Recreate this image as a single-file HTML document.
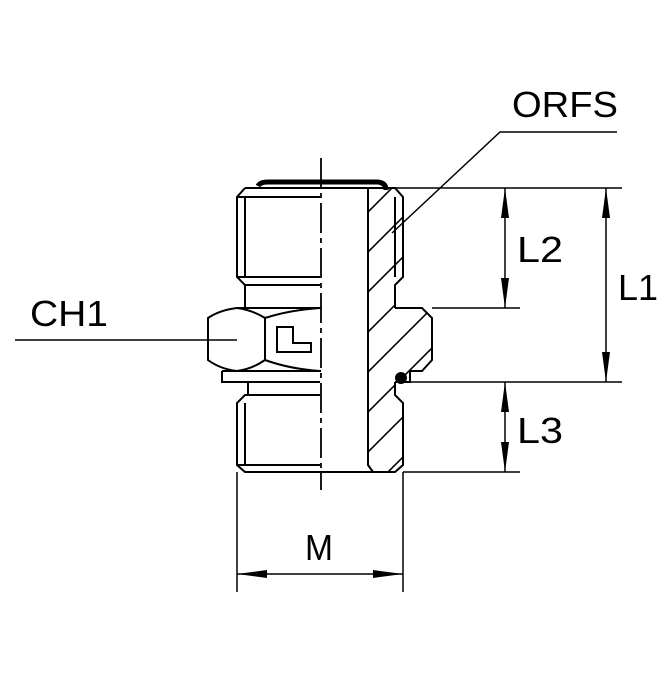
<!DOCTYPE html>
<html><head><style>html,body{margin:0;padding:0;background:#fff}</style></head><body>
<svg width="670" height="670" viewBox="0 0 670 670" xmlns="http://www.w3.org/2000/svg">
<defs>
<clipPath id="sec"><path d="M368,188 L395,188 L403,197 L403,277 L395,285 L395,308 L422,308 L432,318 L432,360 L422,371 L410,371 L410,382 L395,382 L395,395 L403,403 L403,465 L395,472 L373,472 L368,465 Z"/></clipPath>
</defs>
<g fill="none" stroke="#000" stroke-width="2">
<g clip-path="url(#sec)" stroke-width="1.6">
<path d="M360,220 L460,120 M360,260 L460,160 M360,300 L460,200 M360,340 L460,240 M360,380 L460,280 M360,420 L460,320 M360,460 L460,360 M360,500 L460,400 M360,540 L460,440"/>
</g>
<!-- top thread -->
<path d="M245,188 L395,188 L403,197 L403,277 L395,285 L395,308"/>
<path d="M245,188 L237,197 L237,277 L245,285 L245,308"/>
<path d="M245,197 L245,277 M237,197 L320,197 M237,277 L320,277 M245,285 L320,285"/>
<path d="M395,197 L395,277"/>
<!-- hex -->
<path d="M237,308 L321,308 M395,308 L422,308 L432,318 L432,360 L422,371 L410,371 M237,371 L321,371"/>
<path d="M237,308 Q220,310 208,318 L208,360 Q220,369 237,371 Q252,369 265,360 Q290,369 320,371"/>
<path d="M237,308 Q252,310 265,318 Q290,310 320,308 M265,318 L265,360"/>
<path d="M277,327 L293,327 L293,343 L311,343 L311,352 L277,352 Z"/>
<!-- washer -->
<path d="M222,371 L222,382 L320,382 M222,371 L237,371"/>
<!-- lower -->
<path d="M248,382 L248,395 M320,395 L245,395 L237,403 L237,465 L245,472 L395,472 L403,465 L403,403 L395,395 L395,382 M237,465 L320,465 M245,403 L245,465"/>
<path d="M410,371 L410,382 L395,382"/>
<path d="M368,188 L368,465 L373,472"/>
<path d="M321,158 L321,490" stroke-width="1.8" stroke-dasharray="30,5,5,5"/>
<path d="M395,188 L622,188 M432,308 L520,308 M410,382 L622,382 M403,472 L520,472" stroke-width="1.5"/>
<path d="M237,472 L237,592 M403,472 L403,592" stroke-width="1.5"/>
<path d="M505,188 L505,308 M606,188 L606,382 M505,382 L505,472 M237,574 L403,574" stroke-width="1.5"/>
<path d="M392,233 L500,132 L617,132" stroke-width="1.5"/>
<path d="M15,340 L237,340" stroke-width="1.5"/>
</g>
<g fill="#000">
<path d="M505,188 L501,218 L509,218 Z M505,308 L501,278 L509,278 Z"/>
<path d="M606,188 L602,218 L610,218 Z M606,382 L602,352 L610,352 Z"/>
<path d="M505,382 L501,412 L509,412 Z M505,472 L501,442 L509,442 Z"/>
<path d="M237,574 L267,570 L267,578 Z M403,574 L373,570 L373,578 Z"/>
</g>
<path d="M258,186 Q260,182 268,182 L378,182 Q386,183 386,190" fill="none" stroke="#000" stroke-width="5"/>
<circle cx="401" cy="378" r="6" fill="#000"/>
<g font-family="Liberation Sans, sans-serif" font-size="36" fill="#000">
<text x="512" y="117" textLength="106" lengthAdjust="spacingAndGlyphs">ORFS</text>
<text x="30" y="326" textLength="78" lengthAdjust="spacingAndGlyphs">CH1</text>
<text x="517" y="262" textLength="46" lengthAdjust="spacingAndGlyphs">L2</text>
<text x="618" y="300" textLength="40" lengthAdjust="spacingAndGlyphs">L1</text>
<text x="517" y="443" textLength="46" lengthAdjust="spacingAndGlyphs">L3</text>
<text x="305" y="560" textLength="28" lengthAdjust="spacingAndGlyphs">M</text>
</g>
</svg>
</body></html>
